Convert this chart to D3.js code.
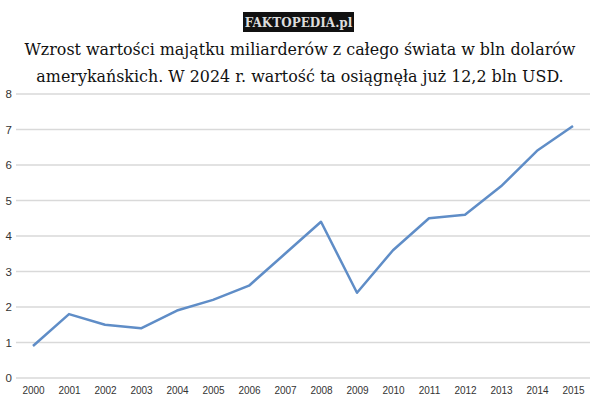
<!DOCTYPE html>
<html><head><meta charset="utf-8">
<script src="https://cdn.jsdelivr.net/npm/d3@7"></script>
<style>body{margin:0;background:#fff}svg{display:block}</style>
</head><body>
<script>
const years = ["2000","2001","2002","2003","2004","2005","2006","2007","2008","2009","2010","2011","2012","2013","2014","2015"];
const values = [0.9,1.8,1.5,1.4,1.9,2.2,2.6,3.5,4.4,2.4,3.6,4.5,4.6,5.4,6.4,7.1];
const yTicks = [0,1,2,3,4,5,6,7,8];
const titleLines = ["Wzrost wartości majątku miliarderów z całego świata w bln dolarów","amerykańskich. W 2024 r. wartość ta osiągnęła już 12,2 bln USD."];

const W=600,H=401;
const svg=d3.select("body").append("svg").attr("width",W).attr("height",H);
svg.append("rect").attr("width",W).attr("height",H).attr("fill","#fff");

// watermark
svg.append("rect").attr("x",243).attr("y",12).attr("width",111).attr("height",20).attr("fill","#111");
svg.append("text").attr("x",298.5).attr("y",27).attr("text-anchor","middle")
  .attr("font-family","DejaVu Serif").attr("font-weight","bold").attr("font-size",12)
  .attr("fill","#ddd").text("FAKTOPEDIA.pl");

svg.selectAll("text.title").data(titleLines).join("text").attr("class","title")
  .attr("x",300).attr("y",(d,i)=>55+i*27).attr("text-anchor","middle")
  .attr("font-family","DejaVu Serif").attr("font-size",15.9).attr("fill","#111").text(d=>d);

const x=d3.scalePoint().domain(years).range([33,573]);
const y=d3.scaleLinear().domain([0,8]).range([378,94]);

const grid=svg.append("g");
grid.selectAll("line").data(yTicks).join("line")
  .attr("x1",16).attr("x2",590).attr("y1",d=>y(d)).attr("y2",d=>y(d))
  .attr("stroke","#d9d9d9").attr("stroke-width",1.3);

const yAxis=svg.append("g").attr("transform","translate(12,0)")
  .call(d3.axisLeft(y).tickValues(yTicks).tickSize(0).tickPadding(0));
yAxis.select(".domain").remove();
yAxis.selectAll("text").attr("font-family","Liberation Sans, Arial").attr("font-size",11.5).attr("fill","#333");

const xAxis=svg.append("g").attr("transform","translate(0,387)")
  .call(d3.axisBottom(x).tickSize(0).tickPadding(0));
xAxis.select(".domain").remove();
xAxis.selectAll("text").attr("font-family","Liberation Sans, Arial").attr("font-size",10).attr("fill","#333");

svg.append("path").datum(values)
  .attr("d",d3.line().x((d,i)=>x(years[i])).y(d=>y(d)))
  .attr("fill","none").attr("stroke","#5f8dc7").attr("stroke-width",2.5).attr("stroke-linejoin","round");
</script>
</body></html>
